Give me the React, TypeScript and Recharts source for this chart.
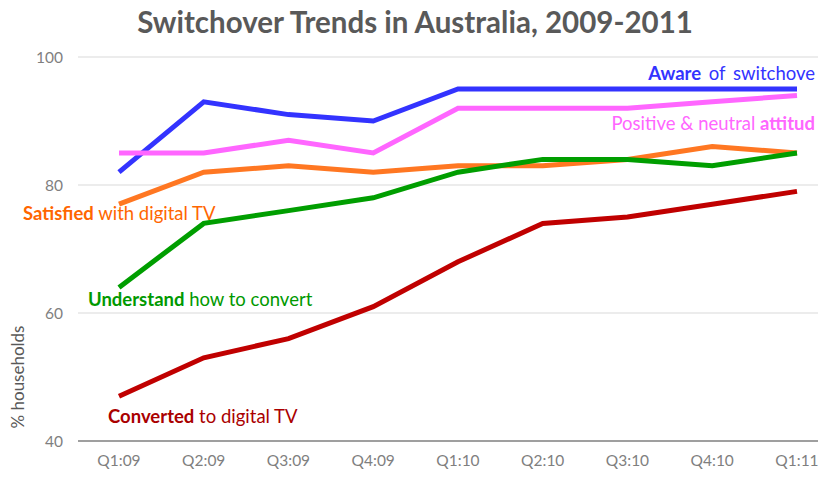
import React from 'react';
import { LineChart, Line, XAxis, YAxis, CartesianGrid, ReferenceLine } from 'recharts';

// quarters 2009-2011
const quarters = ['Q1:09', 'Q2:09', 'Q3:09', 'Q4:09', 'Q1:10', 'Q2:10', 'Q3:10', 'Q4:10', 'Q1:11'];

// % households
const aware = [82, 93, 91, 90, 95, 95, 95, 95, 95];
const positive = [85, 85, 87, 85, 92, 92, 92, 93, 94];
const satisfied = [77, 82, 83, 82, 83, 83, 84, 86, 85];
const understand = [64, 74, 76, 78, 82, 84, 84, 83, 85];
const converted = [47, 53, 56, 61, 68, 74, 75, 77, 79];

const yTicks = [40, 60, 80, 100];

const FONT = 'Lato, "Open Sans", sans-serif';

const data = quarters.map((q, i) => ({
    q,
    aware: aware[i],
    positive: positive[i],
    satisfied: satisfied[i],
    understand: understand[i],
    converted: converted[i],
}));

const tickStyle = { fill: '#7f7f7f', fontSize: 15.5, fontFamily: FONT };

export default function App() {
    return (
        <div style={{ position: 'absolute', left: 0, top: 0, width: 831, height: 477, background: '#fff' }}>
            <LineChart width={831} height={477} data={data} margin={{ top: 57, right: 13, bottom: 0, left: 0 }}>
                <CartesianGrid vertical={false} stroke="#d9d9d9" />
                <XAxis
                    dataKey="q"
                    height={36}
                    tick={tickStyle}
                    tickLine={false}
                    axisLine={false}
                    tickSize={0}
                    tickMargin={14}
                    padding={{ left: 41, right: 21 }}
                />
                <YAxis
                    width={78}
                    domain={[40, 100]}
                    ticks={yTicks}
                    tick={tickStyle}
                    tickLine={false}
                    axisLine={false}
                    tickSize={0}
                    tickMargin={15}
                />
                <ReferenceLine y={40} stroke="#868686" strokeWidth={1.5} />
                <Line dataKey="aware" stroke="#3333ff" strokeWidth={5} dot={false} isAnimationActive={false} />
                <Line dataKey="positive" stroke="#ff66ff" strokeWidth={5} dot={false} isAnimationActive={false} />
                <Line dataKey="satisfied" stroke="#ff7722" strokeWidth={5} dot={false} isAnimationActive={false} />
                <Line dataKey="understand" stroke="#009e00" strokeWidth={5} dot={false} isAnimationActive={false} />
                <Line dataKey="converted" stroke="#c00000" strokeWidth={5} dot={false} isAnimationActive={false} />
            </LineChart>
            <svg width={831} height={477} style={{ position: 'absolute', left: 0, top: 0, pointerEvents: 'none' }} fontFamily={FONT}>
                <text x={415} y={33} textAnchor="middle" fontSize={29.5} fontWeight="bold" fill="#595959">
                    Switchover Trends in Australia, 2009-2011
                </text>
                <text transform="translate(24 377) rotate(-90)" textAnchor="middle" fontSize={17} fill="#595959">
                    % households
                </text>
                <text x={815} y={80} textAnchor="end" fontSize={18.5} fill="#3333ff" wordSpacing={3}>
                    <tspan fontWeight="bold">Aware</tspan> of switchove
                </text>
                <text x={815} y={130} textAnchor="end" fontSize={18.5} fill="#ff66ff">
                    Positive &amp; neutral <tspan fontWeight="bold">attitud</tspan>
                </text>
                <text x={23} y={220} fontSize={18.5} fill="#ff6600">
                    <tspan fontWeight="bold">Satisfied</tspan> with digital TV
                </text>
                <text x={88} y={306} fontSize={18.5} fill="#009900">
                    <tspan fontWeight="bold">Understand</tspan> how to convert
                </text>
                <text x={108} y={423} fontSize={18.5} fill="#aa0000">
                    <tspan fontWeight="bold">Converted</tspan> to digital TV
                </text>
            </svg>
        </div>
    );
}
